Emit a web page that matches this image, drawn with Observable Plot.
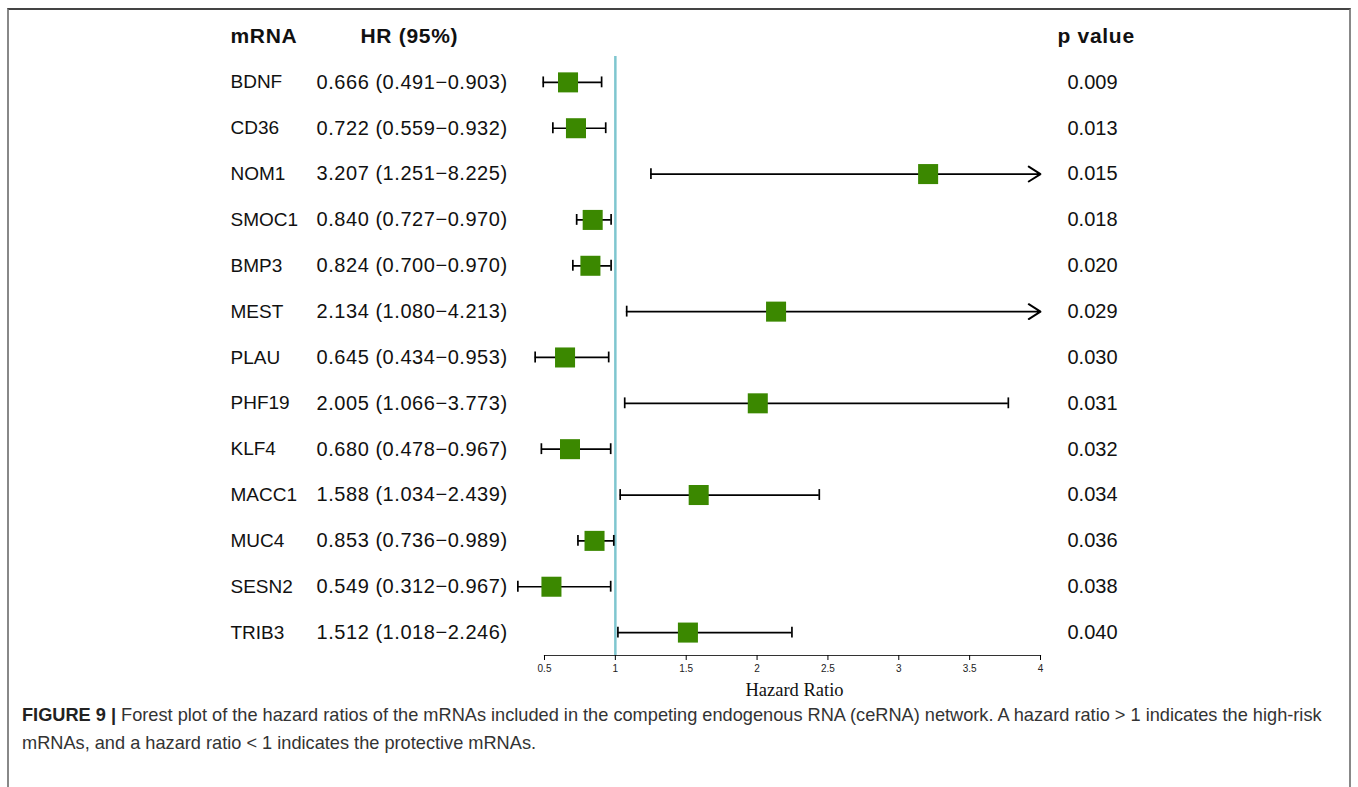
<!DOCTYPE html>
<html>
<head>
<meta charset="utf-8">
<script src="https://cdn.jsdelivr.net/npm/d3@7"></script>
<script src="https://cdn.jsdelivr.net/npm/@observablehq/plot@0.6"></script>
<style>
  html, body { margin: 0; padding: 0; background: #fff; }
  body { width: 1358px; height: 787px; position: relative; overflow: hidden; font-family: "Liberation Sans", Arial, sans-serif; }
  #box { position: absolute; left: 7px; top: 8px; width: 1344px; height: 800px; border-top: 2px solid #444; border-left: 2px solid #888; border-right: 2px solid #888; box-sizing: border-box; }
  #chart { position: absolute; left: 0; top: 0; }
  #caption { position: absolute; left: 22px; top: 701px; width: 1325px; font-size: 18.2px; line-height: 28px; color: #333; white-space: nowrap; }
  #caption b { font-weight: bold; color: #222; }
</style>
</head>
<body>
<div id="box"></div>
<div id="chart"></div>
<div id="caption"><b>FIGURE 9 |</b> Forest plot of the hazard ratios of the mRNAs included in the competing endogenous RNA (ceRNA) network. A hazard ratio &gt; 1 indicates the high-risk<br>mRNAs, and a hazard ratio &lt; 1 indicates the protective mRNAs.</div>
<script>
const genes = ["BDNF","CD36","NOM1","SMOC1","BMP3","MEST","PLAU","PHF19","KLF4","MACC1","MUC4","SESN2","TRIB3"];
const hr    = [0.666,0.722,3.207,0.840,0.824,2.134,0.645,2.005,0.680,1.588,0.853,0.549,1.512];
const lower = [0.491,0.559,1.251,0.727,0.700,1.080,0.434,1.066,0.478,1.034,0.736,0.312,1.018];
const upper = [0.903,0.932,8.225,0.970,0.970,4.213,0.953,3.773,0.967,2.439,0.989,0.967,2.246];
const pvals = ["0.009","0.013","0.015","0.018","0.020","0.029","0.030","0.031","0.032","0.034","0.036","0.038","0.040"];
const xTicks = [0.5,1,1.5,2,2.5,3,3.5,4];
const headers = {gene: "mRNA", hr: "HR (95%)", p: "p value"};

const xMax = 4;
const fmt = d3.format(".3f");
const rows = genes.map((g, i) => ({
  gene: g, hr: hr[i], lower: lower[i], upper: upper[i], p: pvals[i],
  hi: Math.min(upper[i], xMax), clipped: upper[i] > xMax,
  label: `${fmt(hr[i])} (${fmt(lower[i])}\u2212${fmt(upper[i])})`
}));
const HDR = "__header__";
const font = "'Liberation Sans', Arial, Helvetica, sans-serif";

const chart = Plot.plot({
  width: 1358,
  height: 700,
  marginLeft: 544,
  marginRight: 318,
  marginTop: 56,
  marginBottom: 45,
  style: {fontFamily: font, background: "transparent", overflow: "visible"},
  x: {domain: [0.5, 4], ticks: xTicks, tickFormat: d => String(d), label: null},
  y: {type: "band", domain: [HDR, ...genes], range: [13.1, 655], padding: 0, round: false, axis: null},
  marks: [
    Plot.ruleX([1], {stroke: "#7fc6cf", strokeWidth: 2.5}),
    Plot.frame({anchor: "bottom", stroke: "#333", strokeWidth: 1.2}),
    Plot.axisX({ticks: xTicks, tickFormat: d => String(d), tickSize: 5, tickPadding: 4, fontSize: 10, stroke: "#000", label: null, fill: "#222"}),
    Plot.text(["Hazard Ratio"], {frameAnchor: "bottom", dy: 40, dx: 2, fontFamily: "'Liberation Serif', 'Times New Roman', serif", fontSize: 18.5, fill: "#111"}),
    // whiskers (non-truncated)
    Plot.ruleY(rows.filter(d => !d.clipped), {y: "gene", x1: "lower", x2: "hi", stroke: "#000", strokeWidth: 1.7}),
    // truncated whiskers with arrows
    Plot.arrow(rows.filter(d => d.clipped), {y1: "gene", y2: "gene", x1: "lower", x2: "hi", stroke: "#000", strokeWidth: 1.9, headLength: 11, headAngle: 65}),
    // caps
    Plot.tickX(rows, {x: "lower", y: "gene", stroke: "#000", strokeWidth: 1.7, insetTop: 17.5, insetBottom: 17.5}),
    Plot.tickX(rows.filter(d => !d.clipped), {x: "hi", y: "gene", stroke: "#000", strokeWidth: 1.7, insetTop: 17.5, insetBottom: 17.5}),
    // boxes
    Plot.dot(rows, {x: "hr", y: "gene", symbol: "square", r: 11.3, fill: "#3b8800", stroke: "none"}),
    // text columns
    Plot.text(rows, {y: "gene", text: "gene", frameAnchor: "left", dx: -314, textAnchor: "start", fontSize: 19, fill: "#111"}),
    Plot.text(rows, {y: "gene", text: "label", frameAnchor: "left", dx: -228, textAnchor: "start", fontSize: 20, fill: "#111"}),
    Plot.text(rows, {y: "gene", text: "p", frameAnchor: "right", dx: 27, textAnchor: "start", fontSize: 20, fill: "#111"}),
    // headers
    Plot.text([headers], {y: () => HDR, text: "gene", frameAnchor: "left", dx: -314, textAnchor: "start", fontSize: 21, fontWeight: "bold", fill: "#111"}),
    Plot.text([headers], {y: () => HDR, text: "hr", frameAnchor: "left", dx: -184, textAnchor: "start", fontSize: 21, fontWeight: "bold", fill: "#111"}),
    Plot.text([headers], {y: () => HDR, text: "p", frameAnchor: "right", dx: 17, textAnchor: "start", fontSize: 21, fontWeight: "bold", fill: "#111"})
  ]
});
// fine letter-spacing tweaks for the text columns
chart.querySelectorAll("text").forEach(t => {
  const s = t.textContent;
  if (s.includes("\u2212")) t.setAttribute("letter-spacing", "0.55");
  if (s === headers.gene || s === headers.hr || s === headers.p) t.setAttribute("letter-spacing", "0.7");
});
document.getElementById("chart").appendChild(chart);
</script>
</body>
</html>
